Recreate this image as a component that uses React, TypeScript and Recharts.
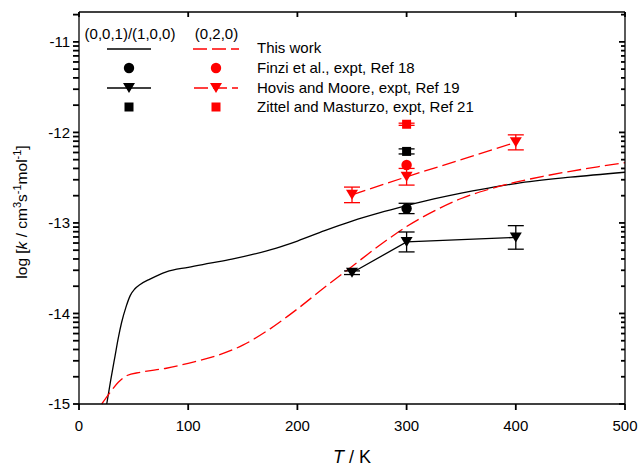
import React from 'react';
import { ComposedChart, Line, Scatter, XAxis, YAxis, ErrorBar } from 'recharts';

const FONT = '"Liberation Sans", Arial, Helvetica, sans-serif';
const BLACK = '#000000';
const RED = '#ff0000';

// Calculated rate constants (log10 k) versus temperature
const thisWork001 = [
  { T: 25.4, k: -15.0 }, { T: 29, k: -14.74 }, { T: 33, k: -14.47 }, { T: 36, k: -14.27 },
  { T: 39, k: -14.1 }, { T: 43, k: -13.93 }, { T: 47, k: -13.8 }, { T: 51, k: -13.73 },
  { T: 56, k: -13.68 }, { T: 65, k: -13.62 }, { T: 80, k: -13.54 }, { T: 100, k: -13.49 },
  { T: 120, k: -13.445 }, { T: 140, k: -13.4 }, { T: 160, k: -13.345 }, { T: 180, k: -13.28 },
  { T: 200, k: -13.2 }, { T: 225, k: -13.085 }, { T: 250, k: -12.98 }, { T: 275, k: -12.89 },
  { T: 300, k: -12.81 }, { T: 325, k: -12.735 }, { T: 350, k: -12.67 }, { T: 375, k: -12.615 },
  { T: 400, k: -12.565 }, { T: 450, k: -12.495 }, { T: 500, k: -12.44 },
];

const thisWork020 = [
  { T: 20.8, k: -15.0 }, { T: 28, k: -14.88 }, { T: 36, k: -14.76 }, { T: 44, k: -14.685 },
  { T: 56, k: -14.65 }, { T: 80, k: -14.605 }, { T: 100, k: -14.55 }, { T: 125, k: -14.47 },
  { T: 150, k: -14.35 }, { T: 175, k: -14.17 }, { T: 200, k: -13.95 }, { T: 225, k: -13.71 },
  { T: 250, k: -13.48 }, { T: 275, k: -13.25 }, { T: 300, k: -13.04 }, { T: 325, k: -12.87 },
  { T: 350, k: -12.73 }, { T: 375, k: -12.63 }, { T: 400, k: -12.55 }, { T: 425, k: -12.485 },
  { T: 450, k: -12.43 }, { T: 475, k: -12.38 }, { T: 500, k: -12.335 },
];

// Experimental data with error bars (e = half-width in log10 k)
const finzi001 = [{ T: 300, k: -12.84, e: 0.057 }];
const finzi020 = [{ T: 300, k: -12.36, e: 0 }];
const hovis001 = [
  { T: 250, k: -13.55, e: 0.02 },
  { T: 300, k: -13.21, e: 0.11 },
  { T: 400, k: -13.16, e: 0.13 },
];
const hovis020 = [
  { T: 250, k: -12.69, e: 0.086 },
  { T: 300, k: -12.49, e: 0.092 },
  { T: 400, k: -12.11, e: 0.083 },
];
const zittel001 = [{ T: 300, k: -12.21, e: 0.028 }];
const zittel020 = [{ T: 300, k: -11.91, e: 0.012 }];

// Axes
const xTicks = [0, 100, 200, 300, 400, 500];
const yMajor = [-15, -14, -13, -12, -11];
const yBottom = -15;
const yTop = -10.67;
const yMinor = yMajor
  .flatMap((d) => [2, 3, 4, 5, 6, 7, 8, 9].map((m) => d + Math.log10(m)))
  .filter((v) => v <= yTop);
const yTicks = [...yMajor, ...yMinor].sort((a, b) => a - b);

// Legend text
const groupLabels = ['(0,0,1)/(1,0,0)', '(0,2,0)'];
const rowLabels = [
  'This work',
  'Finzi et al., expt, Ref 18',
  'Hovis and Moore, expt, Ref 19',
  'Zittel and Masturzo, expt, Ref 21',
];

// Chart frame (page pixels); the chart margins below are derived from it
const W = 638;
const H = 470;
const PLOT = { left: 79, right: 625, top: 12, bottom: 404 };

const DASH = '14 5';
const TICK = { stroke: BLACK, strokeWidth: 1.8 };
const AXIS = { stroke: BLACK, strokeWidth: 1.3 };
const isMajor = (v: number) => Math.abs(v - Math.round(v)) < 1e-6;
const majorLabel = (v: number) => (isMajor(v) ? String(Math.round(v)) : '');

const px = (T: number) => PLOT.left + ((T - 0) / 500) * (PLOT.right - PLOT.left);
const py = (v: number) =>
  PLOT.bottom - ((v - yBottom) / (yTop - yBottom)) * (PLOT.bottom - PLOT.top);

const tri = (cx: number, cy: number, fill: string) => (
  <polygon points={`${cx - 6},${cy - 5} ${cx + 6},${cy - 5} ${cx},${cy + 5}`} fill={fill} />
);

const TriBlack = (p: any) => <g key={p.key}>{tri(p.cx, p.cy, BLACK)}</g>;
const TriRed = (p: any) => <g key={p.key}>{tri(p.cx, p.cy, RED)}</g>;
const CircleShape = (fill: string) => (p: any) => <circle cx={p.cx} cy={p.cy} r={5.2} fill={fill} />;
const SquareShape = (fill: string) => (p: any) => (
  <rect x={p.cx - 4.5} y={p.cy - 4.5} width={9} height={9} fill={fill} />
);

// Frame edges opposite the axes, legend block and axis titles
const Annotations = () => {
  const blackX = 129;
  const redX = 216;
  const textX = 257;
  const rowY = [48, 68, 88, 107];
  const ycx = 27;
  const ycy = 212;
  return (
    <svg width={W} height={H} style={{ position: 'absolute', left: 0, top: 0, pointerEvents: 'none' }}>
      {/* top and right edges with inward ticks */}
      <line x1={PLOT.left} x2={PLOT.right} y1={PLOT.top} y2={PLOT.top} {...AXIS} />
      <line x1={PLOT.right} x2={PLOT.right} y1={PLOT.top} y2={PLOT.bottom} {...AXIS} />
      {xTicks.map((t) => (
        <line key={`t${t}`} x1={px(t)} x2={px(t)} y1={PLOT.top} y2={PLOT.top + 5} {...TICK} />
      ))}
      {yTicks.map((v) => (
        <line
          key={`r${v}`}
          x1={PLOT.right - (isMajor(v) ? 6 : 4)}
          x2={PLOT.right}
          y1={py(v)}
          y2={py(v)}
          {...TICK}
        />
      ))}

      <g fontFamily={FONT} fontSize={15} fill={BLACK}>
        <text x={130} y={39} textAnchor="middle">{groupLabels[0]}</text>
        <text x={216.5} y={39} textAnchor="middle">{groupLabels[1]}</text>
        {rowLabels.map((t, i) => (
          <text key={t} x={textX} y={rowY[i] + 5.3}>{t}</text>
        ))}
      </g>
      <line x1={107} x2={151} y1={49} y2={49} stroke={BLACK} strokeWidth={1.3} />
      <line x1={193} x2={239} y1={49} y2={49} stroke={RED} strokeWidth={1.3} strokeDasharray={DASH} />
      <circle cx={blackX} cy={rowY[1]} r={5.2} fill={BLACK} />
      <circle cx={redX} cy={rowY[1]} r={5.2} fill={RED} />
      <line x1={107} x2={151} y1={rowY[2]} y2={rowY[2]} stroke={BLACK} strokeWidth={1.3} />
      {tri(blackX, rowY[2], BLACK)}
      <line x1={194} x2={238} y1={rowY[2]} y2={rowY[2]} stroke={RED} strokeWidth={1.3} strokeDasharray={DASH} />
      {tri(redX, rowY[2], RED)}
      <rect x={blackX - 4.5} y={rowY[3] - 4.5} width={9} height={9} fill={BLACK} />
      <rect x={redX - 4.5} y={rowY[3] - 4.5} width={9} height={9} fill={RED} />

      <text
        x={ycx}
        y={ycy}
        transform={`rotate(-90 ${ycx} ${ycy})`}
        textAnchor="middle"
        fontSize={15.5}
        fontFamily={FONT}
        fill={BLACK}
      >
        log [<tspan fontStyle="italic">k</tspan> / cm
        <tspan dy={-6} fontSize={11}>3</tspan>
        <tspan dy={6}>s</tspan>
        <tspan dy={-6} fontSize={11}>-1</tspan>
        <tspan dy={6}>mol</tspan>
        <tspan dy={-6} fontSize={11}>-1</tspan>
        <tspan dy={6}>]</tspan>
      </text>
      <text x={(PLOT.left + PLOT.right) / 2} y={463} textAnchor="middle" fontSize={18} fontFamily={FONT} fill={BLACK}>
        <tspan fontStyle="italic">T</tspan> / K
      </text>
    </svg>
  );
};

export default function App() {
  return (
    <div
      style={{
        position: 'absolute',
        left: 0,
        top: 0,
        width: W,
        height: H,
        fontFamily: FONT,
        fontSize: 15,
      }}
    >
      <ComposedChart
        width={W}
        height={H}
        margin={{ top: PLOT.top, right: W - PLOT.right, bottom: 0, left: 0 }}
      >
        <YAxis
          type="number"
          dataKey="k"
          domain={[yBottom, yTop]}
          ticks={yTicks}
          interval={0}
          width={PLOT.left}
          tickSize={6}
          tickMargin={3}
          stroke={BLACK}
          axisLine={AXIS}
          tickLine={TICK}
          tickFormatter={majorLabel}
        />
        <XAxis
          type="number"
          dataKey="T"
          domain={[0, 500]}
          ticks={xTicks}
          interval={0}
          height={H - PLOT.bottom}
          tickSize={6}
          tickMargin={10}
          stroke={BLACK}
          axisLine={AXIS}
          tickLine={TICK}
        />

        <Line data={thisWork001} dataKey="k" type="monotone" stroke={BLACK} strokeWidth={1.3} dot={false} isAnimationActive={false} />
        <Line data={thisWork020} dataKey="k" type="monotone" stroke={RED} strokeWidth={1.3} strokeDasharray={DASH} dot={false} isAnimationActive={false} />

        <Line data={hovis001} dataKey="k" type="linear" stroke={BLACK} strokeWidth={1.3} dot={TriBlack} isAnimationActive={false}>
          <ErrorBar dataKey="e" direction="y" width={8} stroke={BLACK} strokeWidth={1.3} />
        </Line>
        <Line data={hovis020} dataKey="k" type="linear" stroke={RED} strokeWidth={1.3} strokeDasharray={DASH} dot={TriRed} isAnimationActive={false}>
          <ErrorBar dataKey="e" direction="y" width={8} stroke={RED} strokeWidth={1.3} />
        </Line>

        <Scatter data={finzi001} dataKey="k" shape={CircleShape(BLACK)} isAnimationActive={false}>
          <ErrorBar dataKey="e" direction="y" width={8} stroke={BLACK} strokeWidth={1.3} />
        </Scatter>
        <Scatter data={finzi020} dataKey="k" shape={CircleShape(RED)} isAnimationActive={false} />
        <Scatter data={zittel001} dataKey="k" shape={SquareShape(BLACK)} isAnimationActive={false}>
          <ErrorBar dataKey="e" direction="y" width={8} stroke={BLACK} strokeWidth={1.3} />
        </Scatter>
        <Scatter data={zittel020} dataKey="k" shape={SquareShape(RED)} isAnimationActive={false}>
          <ErrorBar dataKey="e" direction="y" width={8} stroke={RED} strokeWidth={1.3} />
        </Scatter>
      </ComposedChart>
      <Annotations />
    </div>
  );
}
